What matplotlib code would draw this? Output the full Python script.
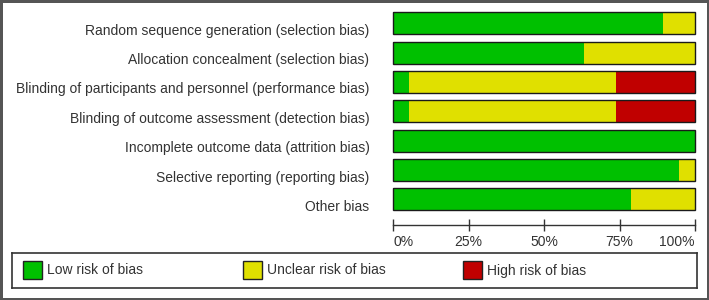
import numpy as np
import matplotlib
matplotlib.use('Agg')
import matplotlib.pyplot as plt
from matplotlib.patches import Rectangle
from matplotlib.transforms import ScaledTranslation

plt.rcParams['font.family'] = ['Liberation Sans', 'DejaVu Sans']

domains = [
    'Random sequence generation (selection bias)',
    'Allocation concealment (selection bias)',
    'Blinding of participants and personnel (performance bias)',
    'Blinding of outcome assessment (detection bias)',
    'Incomplete outcome data (attrition bias)',
    'Selective reporting (reporting bias)',
    'Other bias',
]
# percent of studies per judgement (19 studies)
low = [89.5, 63.2, 5.3, 5.3, 100.0, 94.7, 78.9]
unclear = [10.5, 36.8, 68.4, 68.4, 0.0, 5.3, 21.1]
high = [0.0, 0.0, 26.3, 26.3, 0.0, 0.0, 0.0]

categories = ['Low risk of bias', 'Unclear risk of bias', 'High risk of bias']
colors = ['#00c000', '#e0e000', '#c00000']
ticks = [0, 25, 50, 75, 100]
tick_labels = ['0%', '25%', '50%', '75%', '100%']

W, H = 709, 300
fig = plt.figure(figsize=(W / 100, H / 100), dpi=100)
fig.patch.set_facecolor('white')
fig.patch.set_edgecolor('#555555')
fig.patch.set_linewidth(2.5)

# main axes, positioned in pixels
x0, x1 = 393, 695
ytop, ybot = 8.6, 225
ax = fig.add_axes([x0 / W, 1 - ybot / H, (x1 - x0) / W, (ybot - ytop) / H])

y = np.arange(len(domains))
h = 0.75
left = np.zeros(len(domains))
for vals, c in zip([low, unclear, high], colors):
    ax.barh(y, vals, left=left, height=h, color=c, edgecolor='none', linewidth=0)
    left = left + np.array(vals)
for yi in y:
    ax.add_patch(Rectangle((0, yi - h / 2), 100, h, fill=False,
                           edgecolor='#1a1a1a', linewidth=1.0, clip_on=False))

ax.set_xlim(0, 100)
ax.set_ylim(len(domains) - 1 + 0.874, -0.5)
for s in ['top', 'right', 'left']:
    ax.spines[s].set_visible(False)
ax.spines['bottom'].set_color('#333333')
ax.spines['bottom'].set_linewidth(1.0)

ax.set_xticks(ticks)
ax.set_xticklabels(tick_labels)
ax.tick_params(axis='x', direction='inout', length=8, width=1.0, color='#333333',
               labelsize=10, labelcolor='#333333', pad=3)
xl = ax.get_xticklabels()
xl[0].set_horizontalalignment('left')
xl[-1].set_horizontalalignment('right')

ax.set_yticks(y)
ax.set_yticklabels(domains)
ax.tick_params(axis='y', length=0, pad=17, labelsize=10, labelcolor='#333333')
for t in ax.get_yticklabels():
    t.set_transform(t.get_transform() + ScaledTranslation(0, -0.06, fig.dpi_scale_trans))

# legend box
lx0, lx1, ly0, ly1 = 12, 697, 253, 288
lax = fig.add_axes([lx0 / W, 1 - ly1 / H, (lx1 - lx0) / W, (ly1 - ly0) / H])
lax.set_xlim(lx0, lx1)
lax.set_ylim(ly1, ly0)
lax.set_xticks([])
lax.set_yticks([])
for s in lax.spines.values():
    s.set_color('#333333')
    s.set_linewidth(1.2)
for i, (lab, c) in enumerate(zip(categories, colors)):
    sx = 23 + 220 * i
    lax.add_patch(Rectangle((sx, 261), 19, 18, facecolor=c, edgecolor='#222222', linewidth=1.0))
    lax.text(sx + 24, 270.5, lab, ha='left', va='center', fontsize=10, color='#333333')

fig.savefig('out.png', dpi=100)
